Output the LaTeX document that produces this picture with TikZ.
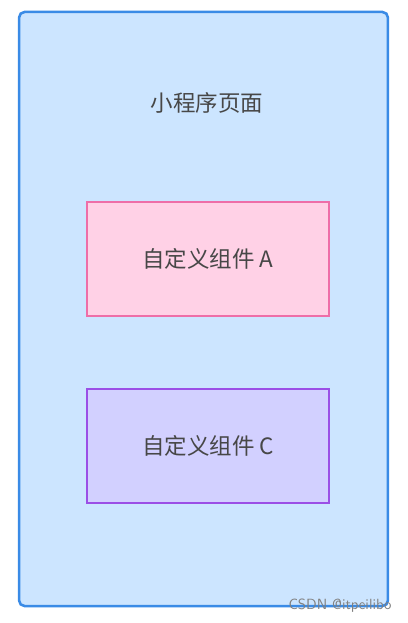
\documentclass[tikz,border=0pt]{standalone}
\usepackage{fontspec}
\usepackage{xcolor}
\usepackage{tikz}
\newfontfamily\cjk{Noto Sans CJK SC}
\usetikzlibrary{positioning}

\definecolor{pagefill}{HTML}{CCE5FF}
\definecolor{pageline}{HTML}{3A8BE6}
\definecolor{afill}{HTML}{FFD1E6}
\definecolor{aline}{HTML}{EE6EA8}
\definecolor{cfill}{HTML}{D2D0FF}
\definecolor{cline}{HTML}{9B4FE6}
\definecolor{txt}{HTML}{474747}

\begin{document}
\begin{tikzpicture}[x=0.025cm, y=-0.025cm, font=\cjk\fontsize{16}{19}\selectfont, text=txt,
    comp/.style={draw, line width=1.4pt, minimum width=6.05cm, minimum height=2.85cm}]
    \useasboundingbox (0,0) rectangle (407,623);
    \node [draw=pageline, fill=pagefill, line width=1.8pt, rounded corners=4pt, minimum width=9.22cm, minimum height=14.85cm] (page) at (203.5,309) {};
    \node (title) at (207,103) {小程序页面};

    \node [comp, draw=aline, fill=afill] (compa) at (208,259) {自定义组件 A};
    \node [comp, draw=cline, fill=cfill, below=1.78cm of compa] (compc) {自定义组件 C};

    \node [font=\sffamily\fontsize{10.5}{12}\selectfont, text=gray] (mark) at (340,606) {CSDN @itpeilibo};
\end{tikzpicture}
\end{document}
